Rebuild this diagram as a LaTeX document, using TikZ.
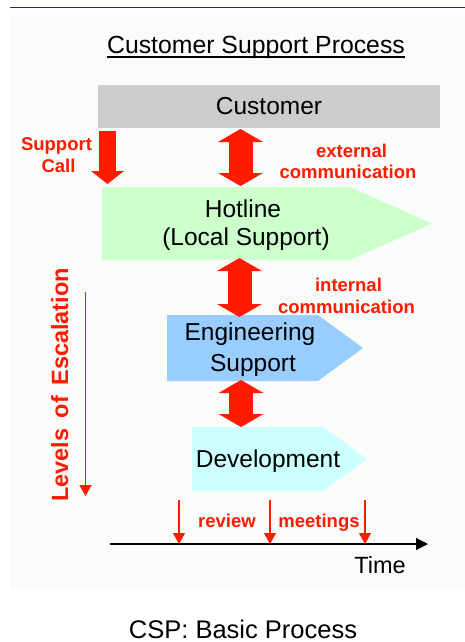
\documentclass[tikz,border=0pt]{standalone}
\usepackage{fontspec}
\setmainfont{Liberation Sans}
\usetikzlibrary{arrows.meta,calc}
\definecolor{cspred}{HTML}{FF1A00}
\definecolor{custgray}{HTML}{CBCCCB}
\definecolor{hotgreen}{HTML}{CCFFCC}
\definecolor{engblue}{HTML}{99CCFF}
\definecolor{devcyan}{HTML}{CCFFFF}
\definecolor{panelbg}{HTML}{FAFCFA}
\definecolor{topblue}{HTML}{1F2A7A}
\begin{document}
\begin{tikzpicture}[x=1pt,y=-1pt,
  boxnode/.style={inner sep=0pt, outer sep=0pt, anchor=north west},
  boxtext/.style={anchor=base, inner sep=0pt, font=\fontsize{24.5}{29}\selectfont},
  redlabel/.style={anchor=base, inner sep=0pt, text=cspred, font=\bfseries\fontsize{18.5}{22}\selectfont},
  bigarrow/.style={draw=cspred, line width=24pt,
    {Triangle[length=13pt,width=45pt,line width=0pt]}-{Triangle[length=13pt,width=45pt,line width=0pt]}},
  callarrow/.style={draw=cspred, line width=17.4pt,
    -{Triangle[length=13pt,width=33pt,line width=0pt]}},
  thinarrow/.style={draw=cspred, line width=1.3pt,
    -{Triangle[length=11pt,width=12pt]}},
  timearrow/.style={draw=black, line width=1.3pt,
    -{Triangle[length=12pt,width=12pt]}}
]
\useasboundingbox (0,0) rectangle (465,642);
\fill[white] (0,0) rectangle (465,642);
\fill[panelbg] (10,15) rectangle (465,590);
\draw[topblue, line width=1.2pt] (10,7.5) -- (465,7.5);

% title
\node[anchor=base, inner sep=0pt, font=\fontsize{24.8}{30}\selectfont] (title) at (256,53) {Customer Support Process};
\draw[line width=1.2pt] ([yshift=-4pt]title.base west) -- ([yshift=-4pt]title.base east);

% customer box
\node[boxnode, fill=custgray, minimum width=342pt, minimum height=42.5pt,
  font=\fontsize{24.5}{29}\selectfont] (cust) at (98,85) {Customer};

% hotline
\node[boxnode, minimum width=248pt, minimum height=73pt] (hot) at (102,187) {};
\fill[hotgreen] (hot.north west) -- (hot.north east) -- ($(hot.east)+(82,0)$) -- (hot.south east) -- (hot.south west) -- cycle;
\node[boxtext] (hot1) at (243,217) {Hotline};
\node[boxtext] (hot2) at (246,245) {(Local Support)};

% engineering
\node[boxnode, minimum width=151pt, minimum height=66pt] (eng) at (167,315) {};
\fill[engblue] (eng.north west) -- (eng.north east) -- ($(eng.east)+(45,0)$) -- (eng.south east) -- (eng.south west) -- cycle;
\node[boxtext] (eng1) at (250,340) {Engineering};
\node[boxtext] (eng2) at (253,371) {Support};

% development
\node[boxnode, minimum width=131pt, minimum height=64pt] (dev) at (192,427) {};
\fill[devcyan] (dev.north west) -- (dev.north east) -- ($(dev.east)+(44,0)$) -- (dev.south east) -- (dev.south west) -- cycle;
\node[boxtext] (dev1) at (268,467) {Development};

% block arrows
\coordinate (ax1) at (240.5,0);
\coordinate (ax2) at (239.5,0);
\coordinate (ax3) at (241,0);
\draw[bigarrow] ([yshift=-1.5pt]cust.south -| ax1) -- ([yshift=1pt]hot.north -| ax1);
\draw[bigarrow] ([yshift=2pt]hot.south -| ax2) -- ([yshift=-2pt]eng.north -| ax2);
\draw[bigarrow] ([yshift=1pt]eng.south -| ax3) -- (dev.north -| ax3);
\draw[callarrow] ([xshift=9.5pt,yshift=-3.5pt]cust.south west) -- ([xshift=5.5pt,yshift=3pt]hot.north west);

% red labels
\node[redlabel] (sc1) at (56.5,150) {Support};
\node[redlabel] (sc2) at (58.5,172) {Call};
\node[redlabel] (ext1) at (351.5,157) {external};
\node[redlabel] (ext2) at (348,178) {communication};
\node[redlabel] (int1) at (348.5,291) {internal};
\node[redlabel] (int2) at (346.5,313) {communication};

% levels of escalation
\node[anchor=base, inner sep=0pt, text=cspred, font=\bfseries\fontsize{23.5}{28}\selectfont, rotate=90] (lev) at (68,385) {Levels\hspace{4pt} of\hspace{4pt} Escalation};
\coordinate (l0) at (85.5,292);
\coordinate (l1) at (85.5,496);
\draw[thinarrow] (l0) -- (l1);

% time axis
\coordinate (t0) at (110,544);
\coordinate (t1) at (428,544);
\draw[timearrow] (t0) -- (t1);
\coordinate (r1) at (179,500);
\coordinate (r2) at (270,500);
\coordinate (r3) at (365,500);
\draw[thinarrow] (r1) -- (r1 |- t0);
\draw[thinarrow] (r2) -- (r2 |- t0);
\draw[thinarrow] (r3) -- (r3 |- t0);
\node[redlabel] (rev) at (227,527) {review};
\node[redlabel] (meet) at (319,527) {meetings};
\node[anchor=base, inner sep=0pt, font=\fontsize{23.5}{28}\selectfont] (time) at (380,573) {Time};

% caption
\node[anchor=base, inner sep=0pt, font=\fontsize{25.5}{30}\selectfont] (cap) at (243,638) {CSP: Basic Process};
\end{tikzpicture}
\end{document}
